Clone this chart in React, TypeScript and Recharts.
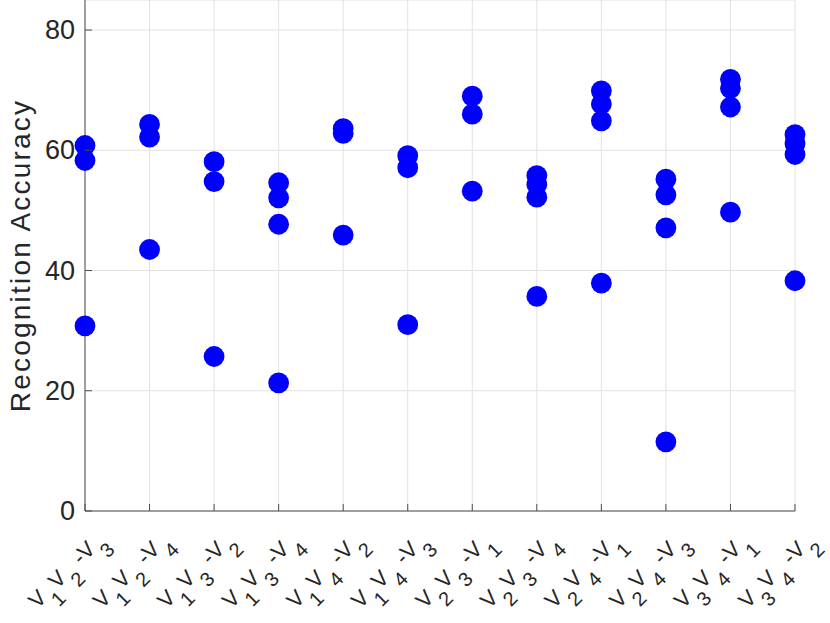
import React from 'react';
import { ScatterChart, Scatter, XAxis, YAxis, CartesianGrid } from 'recharts';

// Category labels: V_{a}V_{b} - V_{target}
const pairFirst = ['1', '1', '1', '1', '1', '1', '2', '2', '2', '2', '3', '3'];
const pairSecond = ['2', '2', '3', '3', '4', '4', '3', '3', '4', '4', '4', '4'];
const targetView = ['3', '4', '2', '4', '2', '3', '1', '4', '1', '3', '1', '2'];

// Recognition accuracy values per category (sorted high to low)
const highest = [60.8, 64.3, 58.1, 54.6, 63.6, 59.1, 69.0, 55.8, 69.9, 55.2, 71.8, 62.6];
const second = [58.3, 62.2, 54.8, 52.1, 62.8, 57.1, 66.0, 54.3, 67.7, 52.6, 70.3, 61.1];
const third = [30.8, 43.5, 25.7, 47.7, 45.9, 31.0, 53.2, 52.2, 64.9, 47.1, 67.2, 59.3];
const fourth: (number | null)[] = [null, null, null, 21.3, null, null, null, 35.7, 37.9, 11.5, 49.7, 38.3];

const yTicks = [0, 20, 40, 60, 80];
const xTicks = pairFirst.map((_, i) => i + 1);

const toPoints = (arr: (number | null)[]) =>
  arr
    .map((v, i) => (v === null ? null : { x: i + 1, y: v }))
    .filter((p) => p !== null) as { x: number; y: number }[];

const seriesList = [highest, second, third, fourth].map(toPoints);

const FONT = '"Liberation Sans", Arial, Helvetica, sans-serif';
const TEXT = '#262626';
const AXIS = '#4d4d4d';

const XTick = (props: any) => {
  const { x, y, payload } = props;
  const i = Math.round(payload.value) - 1;
  if (i < 0 || i >= pairFirst.length) return null;
  const ax = x + 21;
  const ay = y + 30;
  const sub = 14;
  return (
    <g>
      <line x1={x} x2={x} y1={y} y2={y - 7} stroke={AXIS} strokeWidth={1} />
      <text
        x={ax}
        y={ay}
        transform={`rotate(-45 ${ax} ${ay})`}
        textAnchor="end"
        fontSize={22}
        fill={TEXT}
        fontFamily={FONT}
        style={{ whiteSpace: 'pre' }}
      >
        <tspan>V</tspan>
        <tspan dx={2} dy={sub} fontSize={20}>{pairFirst[i]}</tspan>
        <tspan dy={-sub}>V</tspan>
        <tspan dx={2} dy={sub} fontSize={20}>{pairSecond[i]}</tspan>
        <tspan dy={-sub}>{' -V'}</tspan>
        <tspan dx={2} dy={sub} fontSize={20}>{targetView[i]}</tspan>
      </text>
    </g>
  );
};

const YTick = (props: any) => {
  const { x, y, payload } = props;
  return (
    <g>
      <line x1={x} x2={x + 7} y1={y} y2={y} stroke={AXIS} strokeWidth={1} />
      <text
        x={x - 10}
        y={y}
        textAnchor="end"
        dominantBaseline="central"
        fontSize={27}
        fill={TEXT}
        fontFamily={FONT}
      >
        {payload.value}
      </text>
    </g>
  );
};

const YLabel = (props: any) => {
  const vb = props.viewBox || {};
  const cx = (vb.x ?? 0) + 20;
  const cy = (vb.y ?? 0) + (vb.height ?? 0) / 2;
  return (
    <text
      x={cx}
      y={cy}
      transform={`rotate(-90 ${cx} ${cy})`}
      textAnchor="middle"
      dominantBaseline="central"
      fontSize={28}
      fill={TEXT}
      fontFamily={FONT}
      letterSpacing={2.2}
    >
      Recognition Accuracy
    </text>
  );
};

const Dot = (props: any) => {
  const { cx, cy } = props;
  if (cx == null || cy == null) return null;
  return <circle cx={cx} cy={cy} r={10.4} fill="#0000ff" />;
};

export default function App() {
  return (
    <div style={{ position: 'absolute', left: 0, top: 0, background: '#fff' }}>
      <ScatterChart
        width={830}
        height={623}
        margin={{ top: 0, right: 35, left: 0, bottom: 0 }}
      >
        <CartesianGrid stroke="#e2e2e2" strokeWidth={1} />
        <XAxis
          type="number"
          dataKey="x"
          domain={[1, 12]}
          ticks={xTicks}
          interval={0}
          height={112}
          tickSize={0}
          tickMargin={0}
          tickLine={false}
          tick={<XTick />}
          axisLine={{ stroke: AXIS, strokeWidth: 1 }}
          allowDecimals={false}
        />
        <YAxis
          type="number"
          dataKey="y"
          domain={[0, 85]}
          ticks={yTicks}
          width={85}
          tickSize={0}
          tickMargin={0}
          tickLine={false}
          tick={<YTick />}
          axisLine={{ stroke: AXIS, strokeWidth: 1 }}
          label={<YLabel />}
        />
        {seriesList.map((pts, k) => (
          <Scatter
            key={k}
            data={pts}
            fill="#0000ff"
            shape={<Dot />}
            isAnimationActive={false}
          />
        ))}
      </ScatterChart>
    </div>
  );
}
